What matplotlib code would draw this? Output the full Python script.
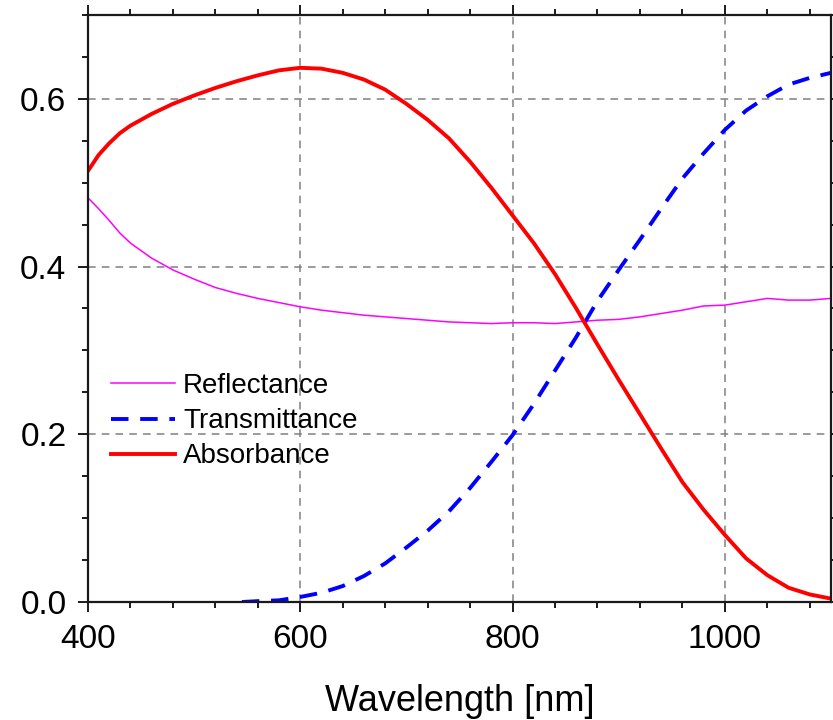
import matplotlib
matplotlib.use("Agg")
import matplotlib.pyplot as plt
from matplotlib.ticker import MultipleLocator, FormatStrFormatter

plt.rcParams['font.family'] = ['Liberation Sans', 'DejaVu Sans']

# Wavelength grid (nm) for reflectance and absorbance
wavelength = [400, 410, 420, 430, 440, 460, 480, 500, 520, 540, 560, 580,
              600, 620, 640, 660, 680, 700, 720, 740, 760, 780, 800, 820,
              840, 860, 880, 900, 920, 940, 960, 980, 1000, 1020, 1040, 1060,
              1080, 1100]

reflectance = [0.482, 0.469, 0.455, 0.440, 0.428, 0.410, 0.396, 0.385, 0.375,
               0.368, 0.362, 0.357, 0.352, 0.348, 0.345, 0.342, 0.340, 0.338,
               0.336, 0.334, 0.333, 0.332, 0.333, 0.333, 0.332, 0.334, 0.336,
               0.337, 0.340, 0.344, 0.348, 0.353, 0.354, 0.358, 0.362, 0.360,
               0.360, 0.362]

absorbance = [0.514, 0.533, 0.547, 0.559, 0.568, 0.582, 0.594, 0.604, 0.613,
              0.621, 0.628, 0.634, 0.637, 0.636, 0.631, 0.623, 0.611, 0.594,
              0.575, 0.553, 0.525, 0.494, 0.461, 0.428, 0.391, 0.350, 0.307,
              0.265, 0.224, 0.183, 0.143, 0.110, 0.080, 0.052, 0.032, 0.017,
              0.009, 0.004]

# Transmittance is only measurable above ~545 nm
wavelength_t = [545, 560, 580, 600, 620, 640, 660, 680, 700, 720, 740, 760,
                780, 800, 820, 840, 860, 880, 900, 920, 940, 960, 980, 1000,
                1020, 1040, 1060, 1080, 1100]
transmittance = [0.000, 0.001, 0.002, 0.006, 0.011, 0.019, 0.031, 0.046,
                 0.065, 0.085, 0.108, 0.136, 0.167, 0.199, 0.236, 0.276,
                 0.316, 0.359, 0.396, 0.432, 0.469, 0.505, 0.535, 0.563,
                 0.586, 0.603, 0.617, 0.625, 0.631]

x_ticks = [400, 600, 800, 1000]
y_ticks = [0.0, 0.2, 0.4, 0.6]

fig = plt.figure(figsize=(8.33, 7.2), dpi=100)
ax = fig.add_axes([0.1056, 0.1639, 0.892, 0.8153])

ax.plot(wavelength, reflectance, color='#FF00FF', lw=1.1, label='Reflectance')
ax.plot(wavelength_t, transmittance, color='#0000FF', lw=2.8,
        linestyle=(0, (4.5, 3)), label='Transmittance')
ax.plot(wavelength, absorbance, color='#FF0000', lw=2.8, label='Absorbance')

ax.set_xlim(400, 1100)
ax.set_ylim(0, 0.7)
ax.set_xticks(x_ticks)
ax.set_yticks(y_ticks)
ax.xaxis.set_minor_locator(MultipleLocator(40))
ax.yaxis.set_minor_locator(MultipleLocator(0.05))
ax.yaxis.set_major_formatter(FormatStrFormatter('%.1f'))

ax.grid(True, which='major', color='#808080', lw=1.1, linestyle=(0, (5, 4)))
ax.set_axisbelow(True)

for sp in ax.spines.values():
    sp.set_linewidth(1.6)
    sp.set_color('#1a1a1a')

ax.tick_params(which='both', direction='out', top=True, right=True,
               color='#1a1a1a', width=1.4)
ax.tick_params(which='major', length=7.5, labelsize=24, pad=8)
ax.tick_params(which='minor', length=4.5)

ax.set_xlabel('Wavelength [nm]', fontsize=26, labelpad=21)

ax.legend(loc='upper left', bbox_to_anchor=(0.031, 0.390), frameon=False,
          fontsize=20, handlelength=2.3, handletextpad=0.3,
          labelspacing=0.33, borderpad=0, borderaxespad=0)

fig.savefig('out.png', dpi=100)
